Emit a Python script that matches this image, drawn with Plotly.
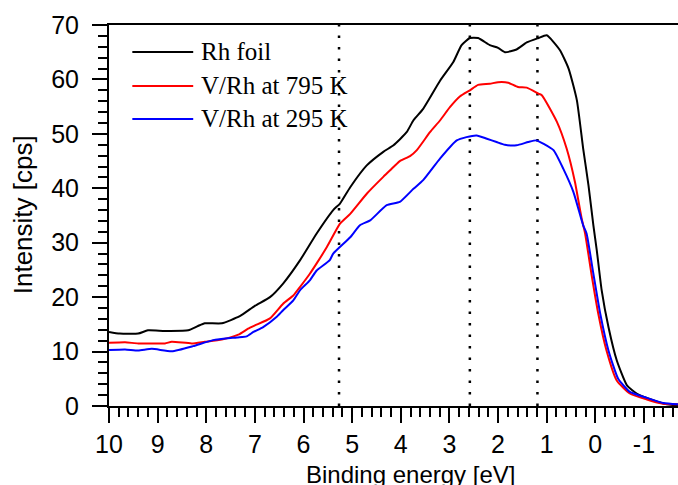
import plotly.graph_objects as go

# Valence-band photoemission spectra (binding energy in eV, intensity in cps)
rh_foil_energy = [10.0, 9.78, 9.4, 9.2, 8.85, 8.37, 8.17, 8.03, 7.68, 7.31, 7.0, 6.69, 6.42, 6.07,
                  5.73, 5.39, 5.25, 5.04, 4.70, 4.36, 4.15, 3.88, 3.74, 3.54, 3.19, 2.92, 2.75,
                  2.58, 2.41, 2.17, 2.00, 1.86, 1.62, 1.41, 1.17, 1.0, 0.73, 0.55, 0.38, 0.25,
                  0.14, 0.04, -0.03, -0.13, -0.27, -0.44, -0.65, -0.85, -1.19, -1.47, -1.7]
rh_foil_counts = [13.6, 13.3, 13.3, 13.9, 13.8, 13.9, 14.7, 15.2, 15.2, 16.5, 18.4, 20.0, 22.5, 26.8,
                  31.7, 36.0, 37.2, 40.2, 44.2, 46.7, 47.9, 50.3, 52.5, 54.6, 59.8, 63.2, 66.3,
                  67.6, 67.6, 66.3, 65.8, 65.0, 65.5, 66.8, 67.6, 68.1, 65.4, 62.0, 56.2, 47.3,
                  40.5, 33.2, 28.6, 21.3, 14.5, 8.4, 3.8, 2.3, 1.05, 0.3, 0.1]

v795_energy = [10.0, 9.67, 9.4, 8.85, 8.71, 8.3, 8.03, 7.68, 7.34, 7.14, 7.0, 6.69, 6.42, 6.21,
               6.07, 5.87, 5.73, 5.52, 5.25, 5.04, 4.7, 4.36, 4.22, 4.02, 3.81, 3.67, 3.4, 3.19,
               2.99, 2.78, 2.58, 2.41, 2.17, 2.0, 1.79, 1.59, 1.41, 1.17, 1.1, 0.79, 0.59, 0.42,
               0.28, 0.21, 0.08, -0.06, -0.23, -0.44, -0.71, -1.06, -1.4, -1.7]
v795_counts = [11.6, 11.7, 11.5, 11.5, 11.8, 11.5, 11.8, 12.2, 13.1, 14.2, 14.8, 16.1, 18.8, 20.3,
               21.9, 24.3, 26.2, 29.2, 33.5, 35.3, 39.0, 42.1, 43.3, 45.0, 45.9, 47.0, 50.3, 52.5,
               54.9, 56.9, 58.0, 59.0, 59.2, 59.5, 59.4, 58.6, 58.5, 57.4, 57.1, 52.2, 47.3, 41.2,
               34.4, 31.7, 24.3, 17.0, 10.2, 4.7, 2.3, 1.2, 0.4, 0.3]

v295_energy = [10.0, 9.67, 9.4, 9.12, 8.71, 8.27, 7.86, 7.37, 7.17, 7.03, 6.83, 6.55, 6.42, 6.21,
               6.07, 5.87, 5.73, 5.46, 5.39, 5.04, 4.84, 4.63, 4.29, 4.02, 3.74, 3.54, 3.19, 2.85,
               2.65, 2.44, 2.23, 2.03, 1.86, 1.62, 1.38, 1.21, 1.07, 0.86, 0.66, 0.45, 0.25, 0.18,
               0.04, -0.10, -0.27, -0.47, -0.71, -1.06, -1.4, -1.7]
v295_counts = [10.3, 10.4, 10.2, 10.5, 10.05, 11.0, 12.1, 12.6, 12.8, 13.6, 14.5, 16.4, 17.6, 19.4,
               21.3, 23.1, 24.9, 26.8, 28.0, 31.0, 33.2, 34.1, 36.9, 37.5, 39.9, 41.5, 45.5, 48.8,
               49.4, 49.7, 49.1, 48.5, 48.0, 47.9, 48.5, 48.8, 48.2, 47.0, 43.6, 39.3, 33.2, 31.7,
               24.3, 17.0, 10.2, 5.0, 2.6, 1.5, 0.55, 0.3]

series_names = ["Rh foil", "V/Rh at 795 K", "V/Rh at 295 K"]
series_colors = ["#000000", "#ff0000", "#0000ff"]

# Energies of the reference features marked with dotted lines
feature_energies = [5.27, 2.58, 1.19]

x_range = [10, -1.7]
y_range = [0, 70]
x_tick_values = [10, 9, 8, 7, 6, 5, 4, 3, 2, 1, 0, -1]
x_tick_labels = ["10", "9", "8", "7", "6", "5", "4", "3", "2", "1", "0", "-1"]
y_tick_values = [0, 10, 20, 30, 40, 50, 60, 70]

fig = go.Figure()

# Dotted markers behind the spectra
for e in feature_energies:
    fig.add_trace(go.Scatter(x=[e, e], y=y_range, mode="lines", showlegend=False,
                             hoverinfo="skip",
                             line=dict(color="black", width=2.5, dash="2.5px,9px")))

for name, color, xs, ys in zip(series_names, series_colors,
                               [rh_foil_energy, v795_energy, v295_energy],
                               [rh_foil_counts, v795_counts, v295_counts]):
    fig.add_trace(go.Scatter(x=xs, y=ys, mode="lines", name=name,
                             line=dict(color=color, width=2, shape="spline", smoothing=0.5),
                             showlegend=False))

# Hand-drawn legend: long line samples with serif labels
legend_rows_y = [0.929, 0.84, 0.753]
for name, color, ly in zip(series_names, series_colors, legend_rows_y):
    fig.add_shape(type="line", xref="paper", yref="paper", x0=0.041, x1=0.148, y0=ly, y1=ly,
                  line=dict(color=color, width=2))
    fig.add_annotation(xref="paper", yref="paper", x=0.158, y=ly + 0.002, text=name,
                       showarrow=False, xanchor="left", yanchor="middle",
                       font=dict(family="Liberation Serif", size=25, color="black"))

axis_font = dict(family="Liberation Sans", size=25, color="black")

fig.add_annotation(xref="paper", yref="paper", x=(410 - 109) / 569, y=-0.18,
                   text="Binding energy [eV]", showarrow=False,
                   xanchor="center", yanchor="middle",
                   font=dict(family="Liberation Sans", size=24, color="black"))
fig.add_annotation(xref="paper", yref="paper", x=-0.152, y=0.502,
                   text="Intensity [cps]", showarrow=False, textangle=-90,
                   xanchor="center", yanchor="middle",
                   font=dict(family="Liberation Sans", size=26, color="black"))

fig.update_xaxes(range=x_range, tickvals=x_tick_values, ticktext=x_tick_labels,
                 ticks="outside", ticklen=15,
                 tickwidth=2, tickcolor="black", showline=True, linecolor="black",
                 linewidth=2, mirror=True, showgrid=False, zeroline=False,
                 tickfont=axis_font, ticklabelstandoff=0,
                 minor=dict(dtick=0.2, ticks="outside", ticklen=9, tickwidth=2,
                            tickcolor="black", showgrid=False))
fig.update_yaxes(range=y_range, tickvals=y_tick_values, ticks="outside", ticklen=15,
                 tickwidth=2, tickcolor="black", showline=True, linecolor="black",
                 linewidth=2, showgrid=False, zeroline=False,
                 tickfont=axis_font, ticklabelstandoff=8,
                 minor=dict(dtick=2, ticks="outside", ticklen=9, tickwidth=2,
                            tickcolor="black", showgrid=False))

fig.update_layout(width=678, height=485, margin=dict(l=109, r=0, t=25, b=79),
                  plot_bgcolor="white", paper_bgcolor="white")

fig.write_html("out.html")
